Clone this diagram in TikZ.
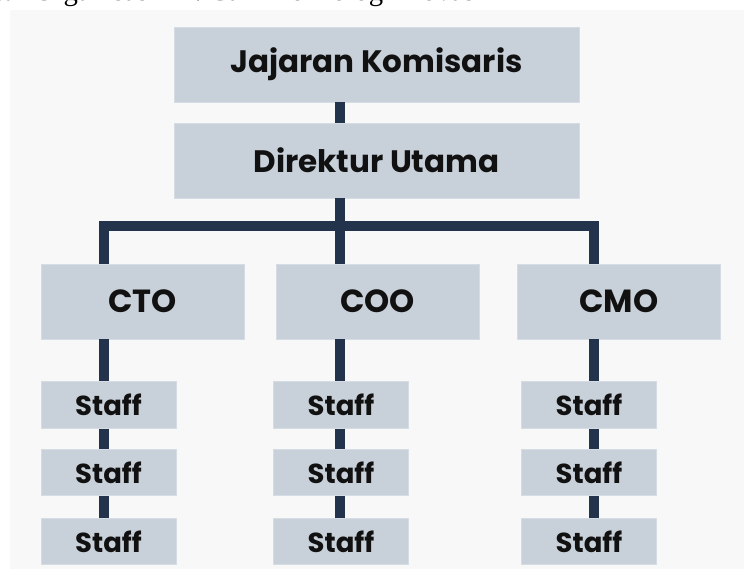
\documentclass[tikz,border=0pt]{standalone}
\usepackage{fontspec}
\setmainfont{Poppins}
\newfontfamily\titlefont{Liberation Serif}
\definecolor{boxfill}{HTML}{C8D0D9}
\definecolor{boxedge}{HTML}{D6DCE3}
\definecolor{linec}{HTML}{22334B}
\definecolor{panel}{HTML}{F8F8F8}
\definecolor{txt}{HTML}{111111}
\tikzset{
  orgbox/.style={fill=boxfill, draw=boxedge, line width=0.7pt, inner sep=0pt, text=txt},
  topbox/.style={orgbox, minimum width=405pt, minimum height=75pt, font=\fontsize{31}{33}\selectfont\bfseries},
  chiefbox/.style={orgbox, minimum width=203pt, minimum height=75pt, font=\fontsize{32}{34}\selectfont\bfseries},
  staffbox/.style={orgbox, minimum width=135pt, minimum height=46.5pt, font=\fontsize{27.5}{29}\selectfont\bfseries},
  conn/.style={draw=linec, line width=9.5pt, line join=miter}
}
\begin{document}
\begin{tikzpicture}[x=1pt, y=-1pt]
\useasboundingbox (0,0) rectangle (744,569);
\begin{scope}
\clip (0,0) rectangle (744,10);
\node[anchor=base east, inner sep=0pt, font=\titlefont\fontsize{28.7}{30}\selectfont] (title) at (483,1) {Struktur Organisasi PT. Cazh Teknologi Inovasi};
\end{scope}
\fill[panel] (10,10) rectangle (744,569);

\coordinate (xl) at (104,226);
\coordinate (xm) at (340,226);
\coordinate (xr) at (594,226);

\node[topbox] (jk) at (376.5,64.5) {Jajaran Komisaris};
\node[topbox] (du) at (376.5,160.5) {Direktur Utama};

\node[chiefbox] (cto) at (142.5,301.5) {CTO};
\node[chiefbox] (coo) at (377.5,301.5) {COO};
\node[chiefbox] (cmo) at (619,301.5) {CMO};

\node[staffbox] (s11) at (108.5,405) {Staff};
\node[staffbox] (s12) at (108.5,472.5) {Staff};
\node[staffbox] (s13) at (108.5,541.5) {Staff};
\node[staffbox] (s21) at (341,405) {Staff};
\node[staffbox] (s22) at (341,472.5) {Staff};
\node[staffbox] (s23) at (341,541.5) {Staff};
\node[staffbox] (s31) at (589,405) {Staff};
\node[staffbox] (s32) at (589,472.5) {Staff};
\node[staffbox] (s33) at (589,541.5) {Staff};

\draw[conn] (jk.south -| xm) -- (du.north -| xm);
\draw[conn] (du.south -| xm) -- (coo.north -| xm);
\draw[conn] (cto.north -| xl) -- (xl) -- (xr) -- (cmo.north -| xr);

\draw[conn] (cto.south -| xl) -- (s11.north -| xl);
\draw[conn] (s11.south -| xl) -- (s12.north -| xl);
\draw[conn] (s12.south -| xl) -- (s13.north -| xl);
\draw[conn] (coo.south -| xm) -- (s21.north -| xm);
\draw[conn] (s21.south -| xm) -- (s22.north -| xm);
\draw[conn] (s22.south -| xm) -- (s23.north -| xm);
\draw[conn] (cmo.south -| xr) -- (s31.north -| xr);
\draw[conn] (s31.south -| xr) -- (s32.north -| xr);
\draw[conn] (s32.south -| xr) -- (s33.north -| xr);
\end{tikzpicture}
\end{document}
